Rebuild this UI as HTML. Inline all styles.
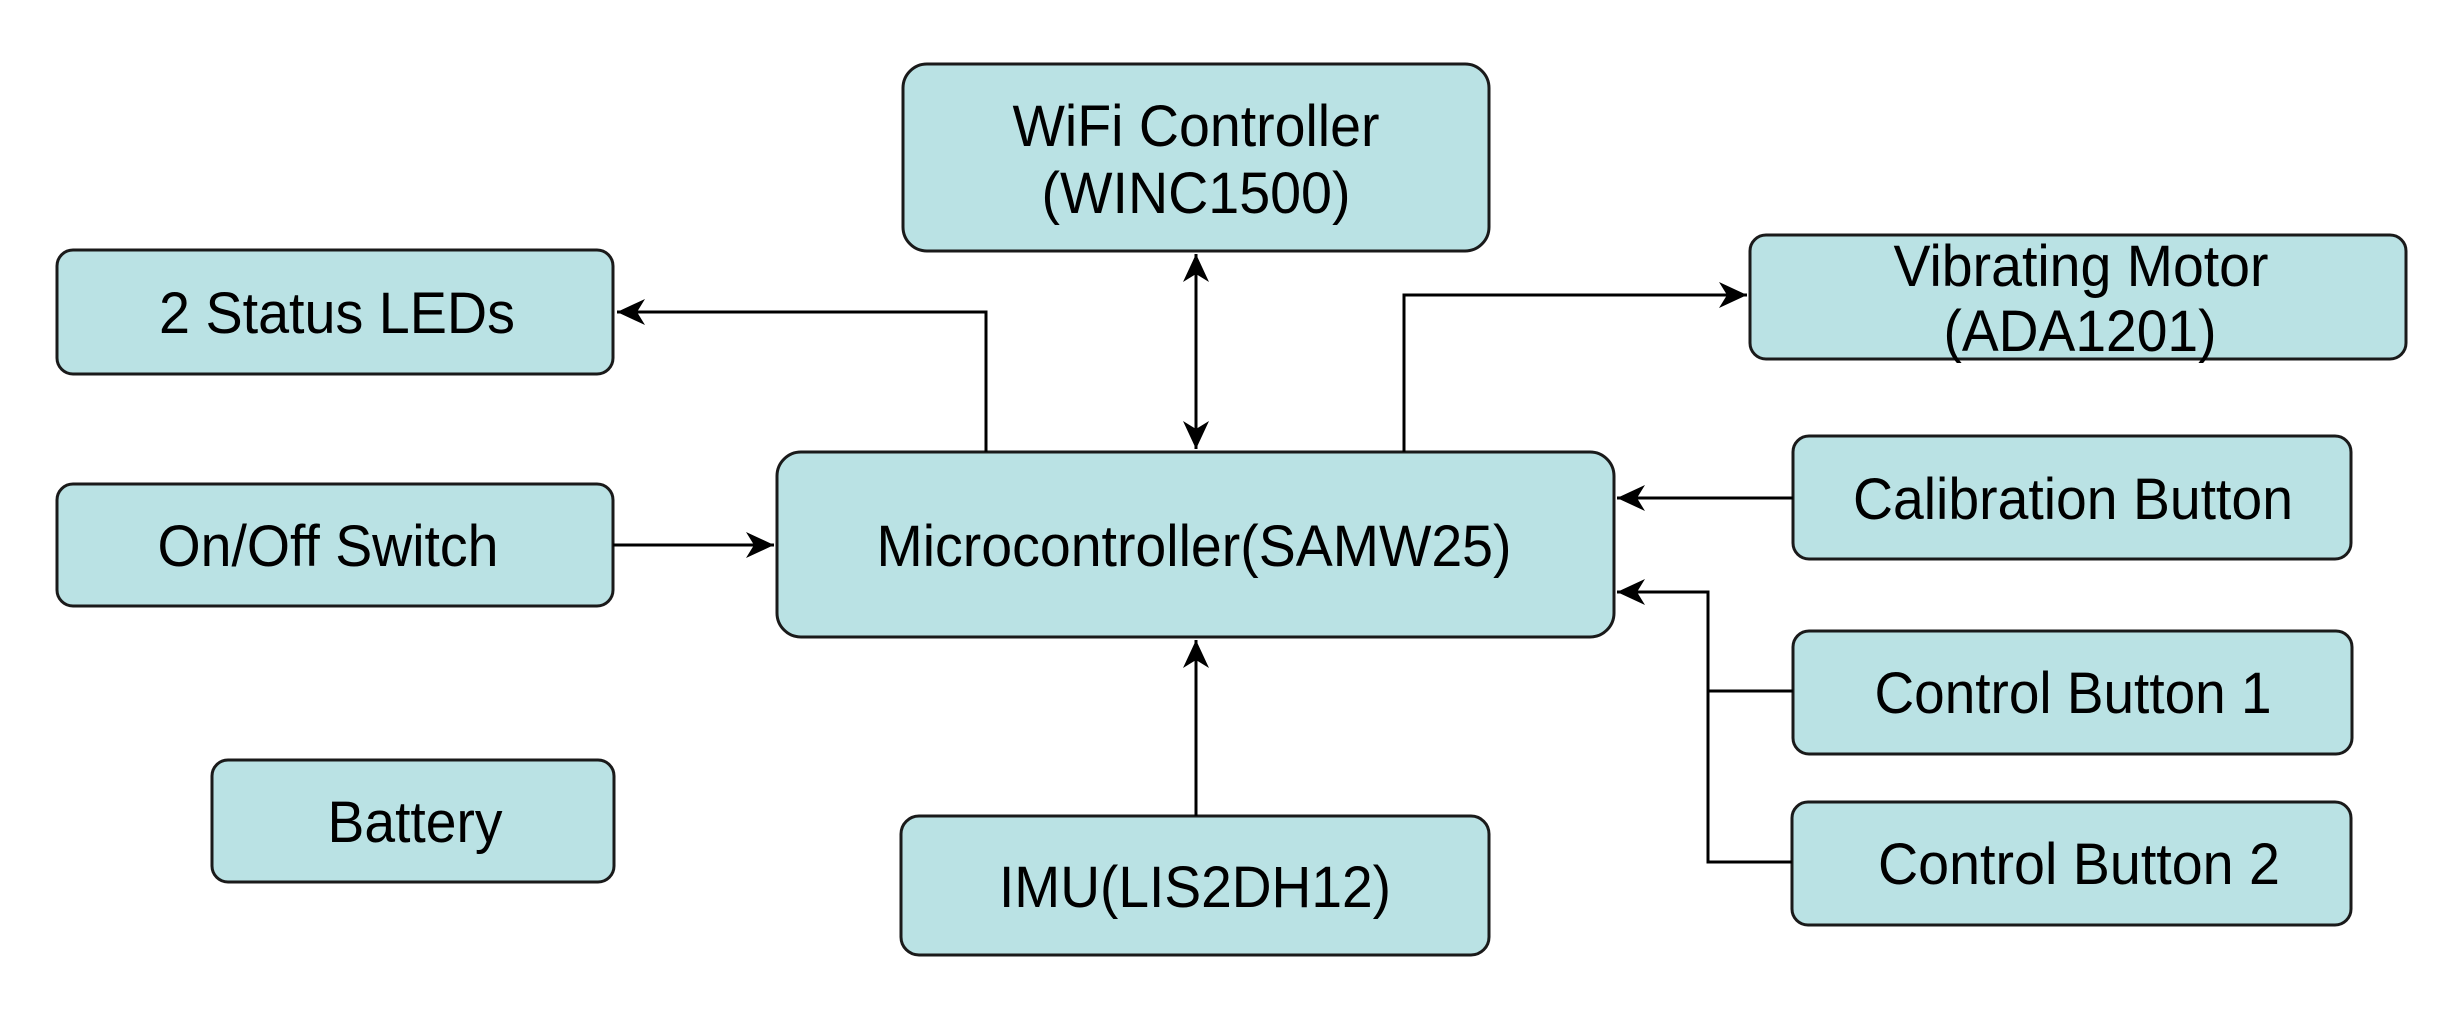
<!DOCTYPE html>
<html><head><meta charset="utf-8"><style>html,body{margin:0;padding:0;background:#fff}svg{display:block}</style></head>
<body>
<svg width="2462" height="1012" viewBox="0 0 2462 1012" xmlns="http://www.w3.org/2000/svg">
<defs>
<marker id="a" viewBox="0 0 30 30" refX="28" refY="15" markerWidth="30" markerHeight="30" markerUnits="userSpaceOnUse" orient="auto-start-reverse">
<path d="M0,2 L28,15 L0,28 L8,15 Z" fill="#000"/>
</marker>
</defs>
<g fill="#bae2e4" stroke="#1a1a1a" stroke-width="3">
<rect x="903" y="64" width="586" height="187" rx="24"/>
<rect x="57" y="250" width="556" height="124" rx="16"/>
<rect x="57" y="484" width="556" height="122" rx="16"/>
<rect x="777" y="452" width="837" height="185" rx="24"/>
<rect x="212" y="760" width="402" height="122" rx="16"/>
<rect x="901" y="816" width="588" height="139" rx="18"/>
<rect x="1750" y="235" width="656" height="124" rx="16"/>
<rect x="1793" y="436" width="558" height="123" rx="16"/>
<rect x="1793" y="631" width="559" height="123" rx="16"/>
<rect x="1792" y="802" width="559" height="123" rx="16"/>
</g>
<g fill="none" stroke="#000" stroke-width="3">
<polyline points="986,452 986,312 617,312" marker-end="url(#a)"/>
<line x1="1196" y1="254" x2="1196" y2="449" marker-start="url(#a)" marker-end="url(#a)"/>
<polyline points="1404,452 1404,295 1747,295" marker-end="url(#a)"/>
<line x1="613" y1="545" x2="774" y2="545" marker-end="url(#a)"/>
<line x1="1793" y1="498" x2="1617" y2="498" marker-end="url(#a)"/>
<polyline points="1793,691 1708,691 1708,592 1617,592" marker-end="url(#a)"/>
<polyline points="1792,862 1708,862 1708,691"/>
<line x1="1196" y1="816" x2="1196" y2="640" marker-end="url(#a)"/>
</g>
<g font-family="Liberation Sans, Arial, sans-serif" font-size="58" fill="#000" text-anchor="middle">
<text x="1196" y="146" textLength="367" lengthAdjust="spacingAndGlyphs">WiFi Controller</text>
<text x="1196" y="213" textLength="309" lengthAdjust="spacingAndGlyphs">(WINC1500)</text>
<text x="337" y="333" textLength="356" lengthAdjust="spacingAndGlyphs">2 Status LEDs</text>
<text x="328" y="566" textLength="341" lengthAdjust="spacingAndGlyphs">On/Off Switch</text>
<text x="1194" y="566" textLength="635" lengthAdjust="spacingAndGlyphs">Microcontroller(SAMW25)</text>
<text x="415" y="842" textLength="175" lengthAdjust="spacingAndGlyphs">Battery</text>
<text x="1195" y="907" textLength="392" lengthAdjust="spacingAndGlyphs">IMU(LIS2DH12)</text>
<text x="2081" y="286" textLength="375" lengthAdjust="spacingAndGlyphs">Vibrating Motor</text>
<text x="2080" y="351" textLength="273" lengthAdjust="spacingAndGlyphs">(ADA1201)</text>
<text x="2073" y="519" textLength="440" lengthAdjust="spacingAndGlyphs">Calibration Button</text>
<text x="2073" y="713" textLength="397" lengthAdjust="spacingAndGlyphs">Control Button 1</text>
<text x="2079" y="884" textLength="402" lengthAdjust="spacingAndGlyphs">Control Button 2</text>
</g>
</svg>
</body></html>
